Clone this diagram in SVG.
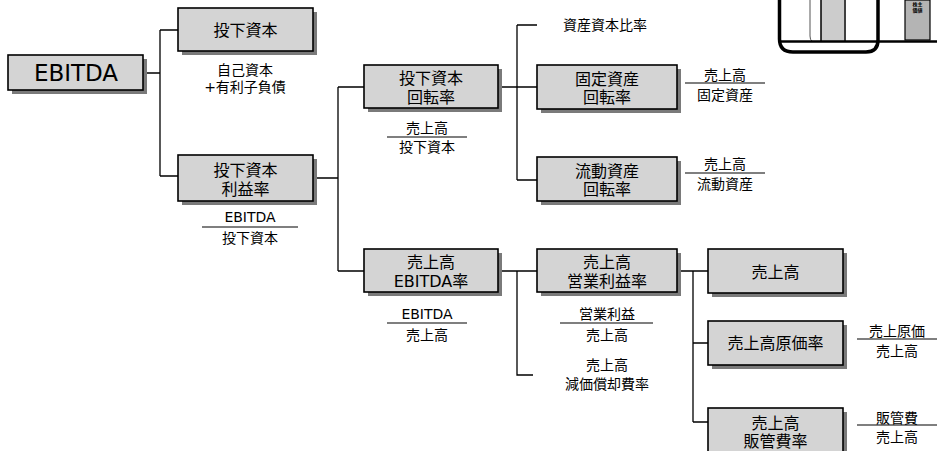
<svg xmlns="http://www.w3.org/2000/svg" width="937" height="451" viewBox="0 0 937 451">
  <style>
    .box { fill: #d4d4d4; stroke: #000; stroke-width: 1.6; }
    .shadow { fill: #7a7a7a; }
    .lbl { font-family: "DejaVu Sans", "Noto Sans CJK JP", sans-serif; font-size: 16px; fill: #000; text-anchor: middle; dominant-baseline: central; }
    .note { font-family: "DejaVu Sans", "Noto Sans CJK JP", sans-serif; font-size: 14px; fill: #000; text-anchor: middle; dominant-baseline: central; }
    .big { font-size: 23px; }
    .conn { fill: none; stroke: #000; stroke-width: 1.3; }
    .frac { stroke: #000; stroke-width: 1.2; }
  </style>

  <!-- corner icon -->
  <g id="icon">
    <rect x="821" y="0" width="23" height="41" fill="#cccccc"/>
    <line x1="821" y1="0" x2="821" y2="41" stroke="#000" stroke-width="1.5"/>
    <line x1="845" y1="0" x2="845" y2="41" stroke="#000" stroke-width="1.5"/>
    <path d="M810,0 V36 Q810,40 812,41" fill="none" stroke="#555" stroke-width="1"/>
    <rect x="905" y="0" width="25" height="40" fill="#b4b4b4" stroke="#000" stroke-width="1.2"/>
    <text x="917.5" y="6" font-family="Noto Sans CJK JP, sans-serif" font-size="5" font-weight="bold" text-anchor="middle">株主</text>
    <text x="917.5" y="12" font-family="Noto Sans CJK JP, sans-serif" font-size="5" font-weight="bold" text-anchor="middle">価値</text>
    <line x1="780" y1="41.5" x2="937" y2="41.5" stroke="#000" stroke-width="2.5"/>
    <path d="M779.5,0 V39 Q779.5,52 793,52 H866 Q878,52 878,40 V0" fill="none" stroke="#000" stroke-width="3.5"/>
  </g>

  <!-- connectors -->
  <g id="connectors">
    <path class="conn" d="M143,73 H160 M160,30 V176 M160,30 H178 M160,176 H178"/>
    <path class="conn" d="M313,178 H338 M338,87 V271 M338,87 H364 M338,271 H364"/>
    <path class="conn" d="M498,87 H537" stroke-width="2"/>
    <path class="conn" d="M517,25 V180 M517,25 H537 M517,180 H537"/>
    <path class="conn" d="M498,271 H537 M517,271 V375 H533"/>
    <path class="conn" d="M677,271 H708 M693,271 V422 M693,343 H708 M693,422 H708"/>
  </g>

  <!-- nodes -->
  <g id="n-ebitda">
    <rect class="shadow" x="12" y="59" width="135" height="35"/>
    <rect class="box" x="8" y="55" width="135" height="35"/>
    <text class="lbl big" x="76" y="73">EBITDA</text>
  </g>
  <g id="n-invested">
    <rect class="shadow" x="182" y="12" width="135" height="43"/>
    <rect class="box" x="178" y="8" width="135" height="43"/>
    <text class="lbl" x="245.5" y="30">投下資本</text>
  </g>
  <g id="n-invested-note">
    <text class="note" x="245" y="70">自己資本</text>
    <text class="note" x="245" y="87">+有利子負債</text>
  </g>
  <g id="n-roic">
    <rect class="shadow" x="182" y="159" width="135" height="46"/>
    <rect class="box" x="178" y="155" width="135" height="46"/>
    <text class="lbl" x="245.5" y="170">投下資本</text>
    <text class="lbl" x="245.5" y="189">利益率</text>
  </g>
  <g id="n-roic-formula">
    <text class="note" x="250" y="217">EBITDA</text>
    <line class="frac" x1="202" y1="227" x2="298" y2="227"/>
    <text class="note" x="250" y="238">投下資本</text>
  </g>
  <g id="n-turnover">
    <rect class="shadow" x="368" y="69" width="134" height="43"/>
    <rect class="box" x="364" y="65" width="134" height="43"/>
    <text class="lbl" x="431" y="78">投下資本</text>
    <text class="lbl" x="431" y="97">回転率</text>
  </g>
  <g id="n-turnover-formula">
    <text class="note" x="427" y="128">売上高</text>
    <line class="frac" x1="387" y1="137" x2="467" y2="137"/>
    <text class="note" x="427" y="147">投下資本</text>
  </g>
  <g id="n-equity-ratio">
    <text class="note" x="605" y="25">資産資本比率</text>
  </g>
  <g id="n-fixed">
    <rect class="shadow" x="541" y="69" width="140" height="44"/>
    <rect class="box" x="537" y="65" width="140" height="44"/>
    <text class="lbl" x="607" y="79">固定資産</text>
    <text class="lbl" x="607" y="97">回転率</text>
  </g>
  <g id="n-fixed-formula">
    <text class="note" x="725" y="75">売上高</text>
    <line class="frac" x1="685" y1="83" x2="765" y2="83"/>
    <text class="note" x="725" y="95">固定資産</text>
  </g>
  <g id="n-current">
    <rect class="shadow" x="541" y="161" width="140" height="44"/>
    <rect class="box" x="537" y="157" width="140" height="44"/>
    <text class="lbl" x="607" y="171">流動資産</text>
    <text class="lbl" x="607" y="189">回転率</text>
  </g>
  <g id="n-current-formula">
    <text class="note" x="725" y="164">売上高</text>
    <line class="frac" x1="685" y1="173" x2="765" y2="173"/>
    <text class="note" x="725" y="184">流動資産</text>
  </g>
  <g id="n-ebitda-margin">
    <rect class="shadow" x="368" y="253" width="134" height="43"/>
    <rect class="box" x="364" y="249" width="134" height="43"/>
    <text class="lbl" x="431" y="262">売上高</text>
    <text class="lbl" x="431" y="281">EBITDA率</text>
  </g>
  <g id="n-ebitda-margin-formula">
    <text class="note" x="427" y="314">EBITDA</text>
    <line class="frac" x1="387" y1="323" x2="467" y2="323"/>
    <text class="note" x="427" y="335">売上高</text>
  </g>
  <g id="n-op-margin">
    <rect class="shadow" x="541" y="253" width="140" height="43"/>
    <rect class="box" x="537" y="249" width="140" height="43"/>
    <text class="lbl" x="607" y="262">売上高</text>
    <text class="lbl" x="607" y="281">営業利益率</text>
  </g>
  <g id="n-op-margin-formula">
    <text class="note" x="607" y="314">営業利益</text>
    <line class="frac" x1="560" y1="323" x2="653" y2="323"/>
    <text class="note" x="607" y="335">売上高</text>
  </g>
  <g id="n-depreciation">
    <text class="note" x="607" y="365">売上高</text>
    <text class="note" x="607" y="384">減価償却費率</text>
  </g>
  <g id="n-sales">
    <rect class="shadow" x="712" y="253" width="135" height="44"/>
    <rect class="box" x="708" y="249" width="135" height="44"/>
    <text class="lbl" x="775.5" y="272">売上高</text>
  </g>
  <g id="n-cogs">
    <rect class="shadow" x="712" y="325" width="135" height="44"/>
    <rect class="box" x="708" y="321" width="135" height="44"/>
    <text class="lbl" x="775.5" y="343">売上高原価率</text>
  </g>
  <g id="n-cogs-formula">
    <text class="note" x="897" y="331">売上原価</text>
    <line class="frac" x1="857" y1="339" x2="937" y2="339"/>
    <text class="note" x="897" y="351">売上高</text>
  </g>
  <g id="n-sga">
    <rect class="shadow" x="712" y="412" width="135" height="50"/>
    <rect class="box" x="708" y="408" width="135" height="50"/>
    <text class="lbl" x="775.5" y="423">売上高</text>
    <text class="lbl" x="775.5" y="441">販管費率</text>
  </g>
  <g id="n-sga-formula">
    <text class="note" x="897" y="418">販管費</text>
    <line class="frac" x1="857" y1="425" x2="937" y2="425"/>
    <text class="note" x="897" y="437">売上高</text>
  </g>
</svg>
